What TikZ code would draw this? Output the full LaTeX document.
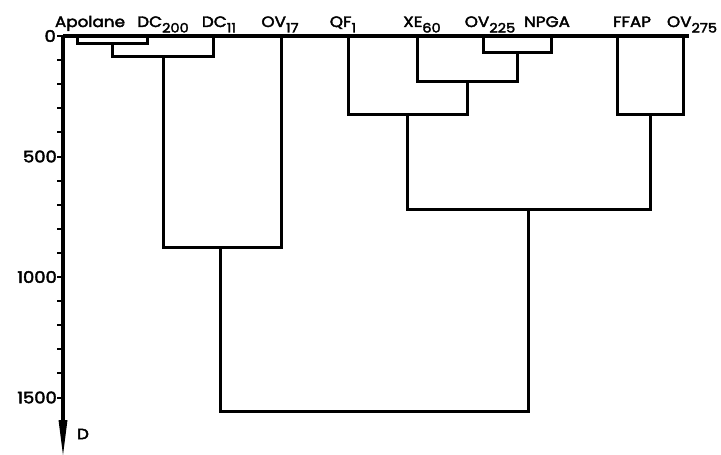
\documentclass[tikz,border=0pt]{standalone}
\usepackage{fontspec}
\setmainfont{Poppins}[FakeBold=2.6,FakeStretch=1.12]
\usetikzlibrary{calc}
\newcommand\lsub[1]{\raisebox{-5.5pt}{\fontsize{13}{13}\selectfont #1}}
\begin{document}
\begin{tikzpicture}[x=1pt,y=-1pt,
  link/.style={line width=3pt,line cap=rect,line join=miter},
  axisline/.style={line width=3.6pt},
  leaflabel/.style={anchor=base,inner sep=0pt,font=\fontsize{15}{15}\selectfont},
  ticklabel/.style={anchor=east,inner sep=0pt,font=\fontsize{16}{16}\selectfont},
  tickmark/.style={line width=2pt}]
\useasboundingbox (0,0) rectangle (721,455);
% leaf coordinates on the zero line
\coordinate (apo) at (77,36);
\coordinate (dc2) at (147,36);
\coordinate (dc1) at (213,36);
\coordinate (ov17) at (281,36);
\coordinate (qf) at (348,36);
\coordinate (xe) at (417,36);
\coordinate (ov225) at (483,36);
\coordinate (npga) at (551,36);
\coordinate (ffap) at (617,36);
\coordinate (ov275) at (683,36);
% labels
\node[leaflabel] (lapo) at (90,27) {Apolane};
\node[leaflabel] (ldc2) at (163,27) {DC\lsub{200}};
\node[leaflabel] (ldc1) at (219,27) {DC\lsub{11}};
\node[leaflabel] (lov17) at (280,27) {OV\lsub{17}};
\node[leaflabel] (lqf) at (343,27) {QF\lsub{1}};
\node[leaflabel] (lxe) at (422,27) {XE\lsub{60}};
\node[leaflabel] (lov225) at (490,27) {OV\lsub{225}};
\node[leaflabel] (lnpga) at (547,27) {NPGA};
\node[leaflabel] (lffap) at (632,27) {FFAP};
\node[leaflabel] (lov275) at (692,27) {OV\lsub{275}};
% merge points
\coordinate (m1) at (112,43);
\coordinate (m2) at (163,56);
\coordinate (m3) at (220,247);
\coordinate (m4) at (517,52);
\coordinate (m5) at (467,81);
\coordinate (m6) at (407,114);
\coordinate (m7) at (650,114);
\coordinate (m8) at (528,209);
\coordinate (m9) at (0,411);
% dendrogram
\draw[link] (apo) |- (m1) -| (dc2);
\draw[link] (m1) |- (m2) -| (dc1);
\draw[link] (m2) |- (m3) -| (ov17);
\draw[link] (ov225) |- (m4) -| (npga);
\draw[link] (m4) |- (m5) -| (xe);
\draw[link] (m5) |- (m6) -| (qf);
\draw[link] (ffap) |- (m7) -| (ov275);
\draw[link] (m6) |- (m8) -| (m7);
\draw[link] (m3) |- (m8 |- m9) -- (m8);
% axes
\coordinate (origin) at (63,36);
\coordinate (topend) at (689,36);
\coordinate (axend) at (63,422);
\coordinate (tip) at (63,455);
\draw[axisline] (origin) -- (topend);
\draw[axisline] (origin) -- (axend);
\fill (58.5,420) -- (67.5,420) -- (tip) -- cycle;
\node[anchor=center,inner sep=0pt,font=\fontsize{15}{15}\selectfont] (dlab) at (83,434) {D};
\foreach \k in {0,...,15}{
  \draw[tickmark] ($(origin)+(0,\k*24.1)$) -- ++(-6,0);
}
\node[ticklabel] (t0) at (56,36) {0};
\node[ticklabel] (t500) at (57,156.5) {500};
\node[ticklabel] (t1000) at (57,277) {1000};
\node[ticklabel] (t1500) at (57,397.5) {1500};
\end{tikzpicture}
\end{document}
